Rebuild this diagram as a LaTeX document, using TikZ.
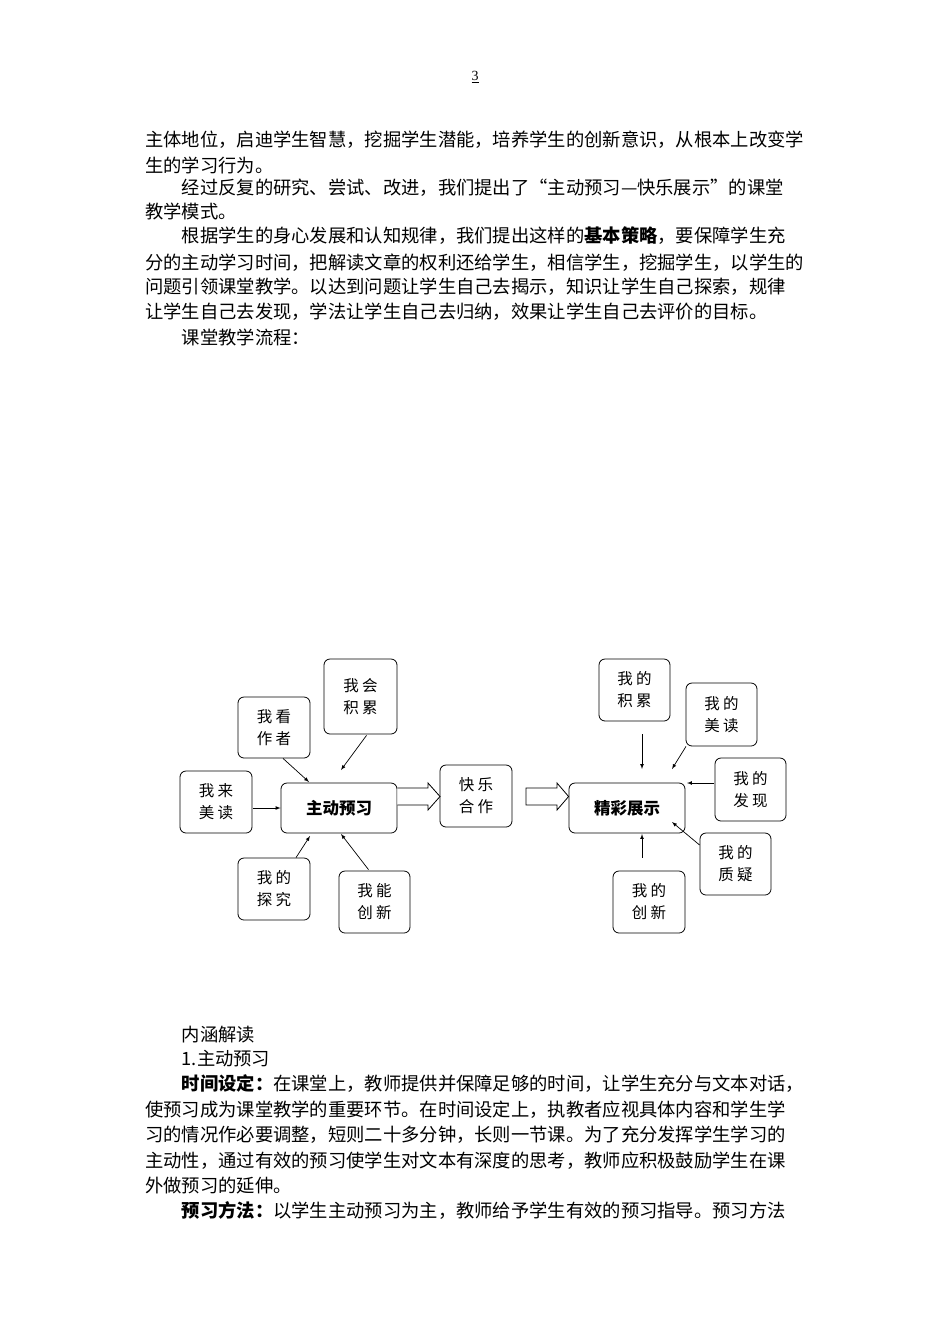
\documentclass[tikz,border=0pt]{standalone}
\usepackage{fontspec}
\setmainfont{Liberation Serif}
\newfontfamily\cjk{Noto Sans CJK SC}
\begin{document}
\begin{tikzpicture}[x=1pt,y=-1pt,
  ln/.style={anchor=base west,inner sep=0pt,font=\cjk\fontsize{18.3}{20}\selectfont},
  sbox/.style={draw,rounded corners=6pt,line width=0.8pt,inner sep=0pt,align=center,font=\cjk\fontsize{15.5}{22}\selectfont},
  mbox/.style={draw,rounded corners=6pt,line width=0.8pt,inner sep=0pt,font=\cjk\bfseries\fontsize{16.5}{20}\selectfont},
  arr/.style={-latex,line width=0.7pt},
  barr/.style={draw,line width=0.8pt,fill=white}]
\useasboundingbox (0,0) rectangle (950,1344);
\node[inner sep=0pt,font=\fontsize{14}{16}\selectfont] (pg) at (475,77) {\underline{3}};
\node[ln] (t1) at (145,146) {主体地位，启迪学生智慧，挖掘学生潜能，培养学生的创新意识，从根本上改变学};
\node[ln] (t2) at (145,172) {生的学习行为。};
\node[ln] (t3) at (181.6,194) {经过反复的研究、尝试、改进，我们提出了“主动预习—快乐展示”的课堂};
\node[ln] (t4) at (145,218) {教学模式。};
\node[ln] (t5) at (181.6,242) {根据学生的身心发展和认知规律，我们提出这样的{\bfseries 基本策略}，要保障学生充};
\node[ln] (t6) at (145,269) {分的主动学习时间，把解读文章的权利还给学生，相信学生，挖掘学生，以学生的};
\node[ln] (t7) at (145,293) {问题引领课堂教学。以达到问题让学生自己去揭示，知识让学生自己探索，规律};
\node[ln] (t8) at (145,318) {让学生自己去发现，学法让学生自己去归纳，效果让学生自己去评价的目标。};
\node[ln] (t9) at (181.6,344) {课堂教学流程：};

\node[ln] (b1) at (181.6,1041) {内涵解读};
\node[ln] (b2) at (181.6,1065) {1.主动预习};
\node[ln] (b3) at (181.6,1090) {{\bfseries 时间设定：}在课堂上，教师提供并保障足够的时间，让学生充分与文本对话，};
\node[ln] (b4) at (145,1116) {使预习成为课堂教学的重要环节。在时间设定上，执教者应视具体内容和学生学};
\node[ln] (b5) at (145,1141) {习的情况作必要调整，短则二十多分钟，长则一节课。为了充分发挥学生学习的};
\node[ln] (b6) at (145,1167) {主动性，通过有效的预习使学生对文本有深度的思考，教师应积极鼓励学生在课};
\node[ln] (b7) at (145,1192) {外做预习的延伸。};
\node[ln] (b8) at (181.6,1217) {{\bfseries 预习方法：}以学生主动预习为主，教师给予学生有效的预习指导。预习方法};

% diagram
\node[mbox,minimum width=116pt,minimum height=50pt] (zd) at (339,808) {主动预习};
\node[mbox,minimum width=116pt,minimum height=50pt] (jc) at (627,808) {精彩展示};
\node[sbox,minimum width=72pt,minimum height=61pt] (kz) at (274,727.5) {我\ 看\\作\ 者};
\node[sbox,minimum width=73pt,minimum height=75pt] (jl) at (360.5,696.5) {我\ 会\\积\ 累};
\node[sbox,minimum width=72pt,minimum height=62pt] (md) at (216,802) {我\ 来\\美\ 读};
\node[sbox,minimum width=72pt,minimum height=62pt] (tj) at (274,889) {我\ 的\\探\ 究};
\node[sbox,minimum width=71pt,minimum height=62pt] (cx) at (374.5,902) {我\ 能\\创\ 新};
\node[sbox,minimum width=72pt,minimum height=62pt] (hz) at (476,796) {快\ 乐\\合\ 作};
\node[sbox,minimum width=71pt,minimum height=62pt] (wjl) at (634.5,690) {我\ 的\\积\ 累};
\node[sbox,minimum width=71pt,minimum height=63pt] (wmd) at (721.5,714.5) {我\ 的\\美\ 读};
\node[sbox,minimum width=71pt,minimum height=63pt] (wfx) at (750.5,789.5) {我\ 的\\发\ 现};
\node[sbox,minimum width=71pt,minimum height=62pt] (wzy) at (735.5,864) {我\ 的\\质\ 疑};
\node[sbox,minimum width=72pt,minimum height=62pt] (wcx) at (649,902) {我\ 的\\创\ 新};

\draw[arr] (kz.south) ++(9,0) coordinate (a1) -- (309,782) coordinate (e1);
\draw[arr] (jl.south) ++(6,1) coordinate (a2) -- (341,770) coordinate (e2);
\draw[arr] (md.east) ++(1,6) coordinate (a3) -- (zd.west |- a3);
\draw[arr] (tj.north) ++(22,0) coordinate (a4) -- (310,836) coordinate (e4);
\draw[arr] (cx.north) ++(-6,-1) coordinate (a5) -- (341,834) coordinate (e5);
\draw[arr] (wjl.south) ++(7.5,13) coordinate (a6) -- (642,769) coordinate (e6);
\draw[arr] (wmd.south) ++(-35.5,0) coordinate (a7) -- (672,769) coordinate (e7);
\draw[arr] (wfx.west) ++(-1,-6.5) coordinate (a8) -- (687,783) coordinate (e8);
\draw[arr] (wzy.west) ++(0,-19) coordinate (a9) -- (672,822) coordinate (e9);
\draw[arr] (wcx.north) ++(-7,-13) coordinate (a10) -- (642,834) coordinate (e10);

\draw[barr] (zd.east |- 0,788) -- (428,788) -- (428,783) -- (440,796.5) -- (428,810) -- (428,805) -- (zd.east |- 0,805);
\draw[barr] (526,788) -- (557,788) -- (557,783) -- (jc.west |- 0,796.5) -- (557,810) -- (557,805) -- (526,805) -- cycle;
\end{tikzpicture}
\end{document}
